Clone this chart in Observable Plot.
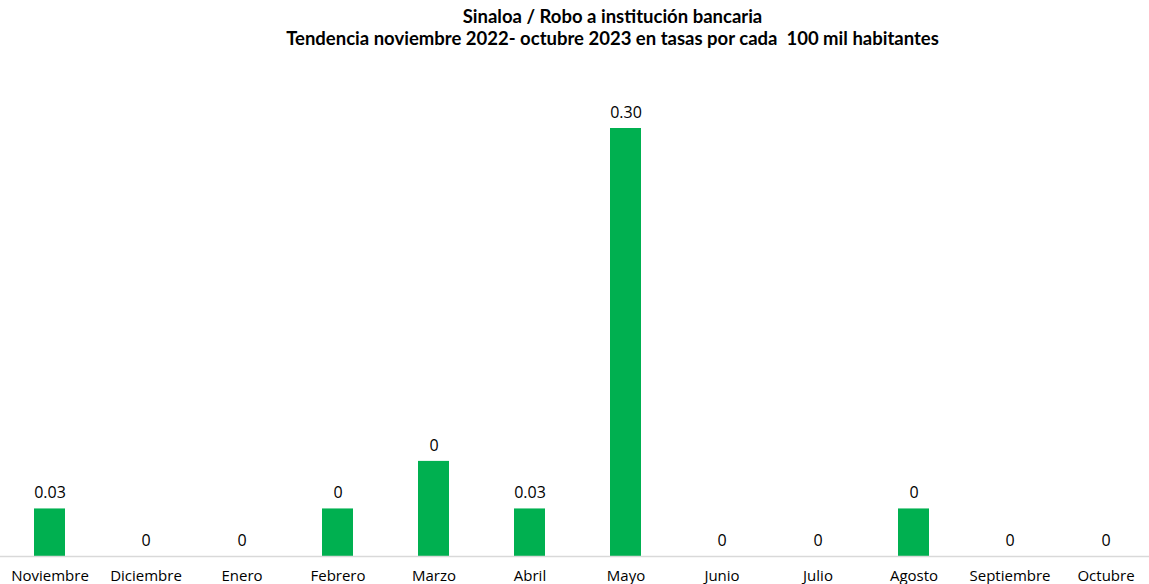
<!DOCTYPE html>
<html>
<head>
<meta charset="utf-8">
<script src="https://cdn.jsdelivr.net/npm/d3@7"></script>
<script src="https://cdn.jsdelivr.net/npm/@observablehq/plot@0.6"></script>
<style>
  html, body { margin: 0; padding: 0; background: #fff; overflow: hidden; }
  #title { font-family: Lato, "Open Sans", sans-serif; font-weight: bold; font-size: 18.5px; color: #000;
           text-align: center; line-height: 22px; padding-top: 5px; height: 50px; box-sizing: border-box; width: 1225px; }
  #chart svg { display: block; }
</style>
</head>
<body>
<div id="title">Sinaloa / Robo a institución bancaria<br>Tendencia noviembre 2022- octubre 2023 en tasas por cada&nbsp; 100 mil habitantes</div>
<div id="chart"></div>
<script>
const months = ["Noviembre","Diciembre","Enero","Febrero","Marzo","Abril","Mayo","Junio","Julio","Agosto","Septiembre","Octubre"];
const rates = [0.033, 0, 0, 0.033, 0.066, 0.033, 0.297, 0, 0, 0.033, 0, 0];
const labels = ["0.03","0","0","0","0","0.03","0.30","0","0","0","0","0"];

const data = months.map((m, i) => ({month: m, rate: rates[i], label: labels[i]}));

const chart = Plot.plot({
  width: 1149,
  height: 534,
  marginTop: 78,
  marginBottom: 28,
  marginLeft: 0,
  marginRight: 0,
  style: {fontFamily: "'Open Sans', Lato, sans-serif", fontSize: "15px", color: "#000", background: "#fff"},
  x: {domain: months, range: [1.5, 1153.5], paddingInner: 0.677, paddingOuter: 0.3385, label: null},
  y: {domain: [0, 0.297], axis: null},
  marks: [
    Plot.barY(data, {x: "month", y: "rate", fill: "#00B050"}),
    Plot.ruleY([0], {stroke: "#d9d9d9", strokeWidth: 1.3}),
    Plot.text(data, {x: "month", y: "rate", text: "label", dy: -16, fill: "#000", fontSize: 16}),
    Plot.axisX({tickSize: 0, tickPadding: 14, fontSize: 15, fill: "#000"})
  ]
});
document.getElementById("chart").appendChild(chart);
</script>
</body>
</html>
